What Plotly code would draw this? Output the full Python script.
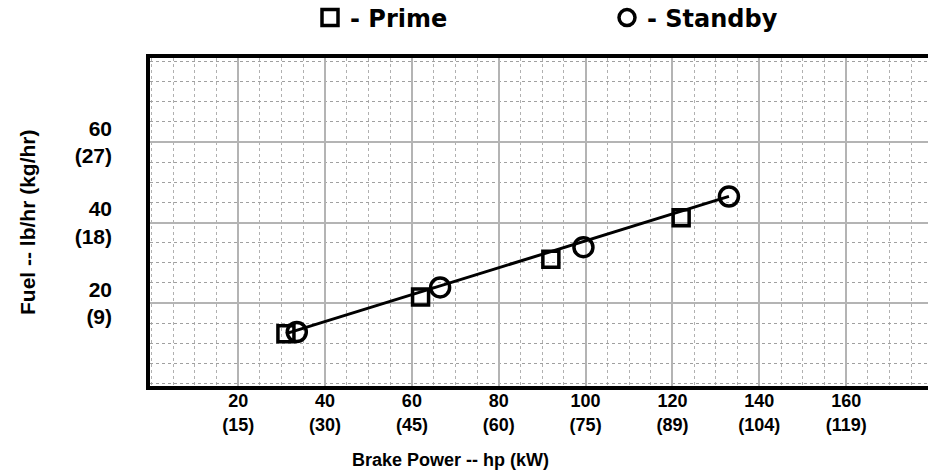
import plotly.graph_objects as go

# ---- data ----
prime_hp = [31, 62, 92, 122]
prime_fuel = [12.4, 21.5, 30.9, 41.2]
standby_hp = [33.5, 66.5, 99.5, 133]
standby_fuel = [12.8, 23.9, 33.9, 46.5]
fit_hp = [31, 133]
fit_fuel = [12.4, 46.5]

x_tick_vals = [20, 40, 60, 80, 100, 120, 140, 160]
x_tick_kw = [15, 30, 45, 60, 75, 89, 104, 119]
y_tick_vals = [20, 40, 60]
y_tick_kg = [9, 18, 27]

SANS = "Liberation Sans, Arial"
WIDE = "DejaVu Sans, Verdana"

FIG_W = 940          # plot runs past the 928 px window edge, like the cropped reference
PLOT_W = FIG_W - 150

fig = go.Figure()
fig.add_trace(go.Scatter(x=fit_hp, y=fit_fuel, mode="lines",
                         line=dict(color="black", width=3), showlegend=False,
                         hoverinfo="skip"))
fig.add_trace(go.Scatter(x=prime_hp, y=prime_fuel, mode="markers", name="- Prime",
                         legend="legend",
                         marker=dict(symbol="square-open", size=16,
                                     color="black", line=dict(width=3.5, color="black"))))
fig.add_trace(go.Scatter(x=standby_hp, y=standby_fuel, mode="markers", name="- Standby",
                         legend="legend2",
                         marker=dict(symbol="circle-open", size=19,
                                     color="black", line=dict(width=3.5, color="black"))))

legend_font = dict(family=WIDE, size=24, color="black", weight="bold")

fig.update_layout(
    width=FIG_W, height=472,
    margin=dict(l=150, r=0, t=58, b=86),
    paper_bgcolor="white", plot_bgcolor="white",
    showlegend=True,
    legend=dict(orientation="h", xref="container", yref="container",
                x=310 / FIG_W, xanchor="left", y=1 - 18 / 472, yanchor="middle",
                font=legend_font, itemsizing="trace", bgcolor="rgba(0,0,0,0)"),
    legend2=dict(orientation="h", xref="container", yref="container",
                 x=607 / FIG_W, xanchor="left", y=1 - 18 / 472, yanchor="middle",
                 font=legend_font, itemsizing="trace", bgcolor="rgba(0,0,0,0)"),
    xaxis=dict(range=[-0.3, 181.6], showline=True, linecolor="black", linewidth=3.5,
               mirror=True, zeroline=False,
               tickmode="array", tickvals=x_tick_vals,
               ticktext=[f"{h}<br>({k})" for h, k in zip(x_tick_vals, x_tick_kw)],
               tickfont=dict(family=SANS, size=18, color="black", weight="bold"),
               ticks="", ticklabelstandoff=-4,
               showgrid=True, gridcolor="#b4b4b4", gridwidth=2,
               minor=dict(tickmode="linear", tick0=0, dtick=5, showgrid=True,
                          gridcolor="#b0b0b0", gridwidth=1, griddash="dot")),
    yaxis=dict(range=[-0.6, 80.9], showline=True, linecolor="black", linewidth=3.5,
               mirror=False, zeroline=False,
               tickmode="array", tickvals=y_tick_vals,
               ticktext=[f"{f}<br>({k})" for f, k in zip(y_tick_vals, y_tick_kg)],
               tickfont=dict(family=SANS, size=21, color="black", weight="bold"),
               ticks="", ticklabelstandoff=30,
               showgrid=True, gridcolor="#b4b4b4", gridwidth=2,
               minor=dict(tickmode="linear", tick0=0, dtick=5, showgrid=True,
                          gridcolor="#a0a0a0", gridwidth=1, griddash="dot")),
    annotations=[
        dict(text="Brake Power -- hp (kW)", xref="paper", yref="paper",
             x=(450 - 150) / PLOT_W, y=-(460 - 386) / 328, xanchor="center", yanchor="middle",
             showarrow=False, font=dict(family=SANS, size=18, color="black", weight="bold")),
        dict(text="Fuel -- lb/hr (kg/hr)", xref="paper", yref="paper",
             x=(27 - 150) / PLOT_W, y=(386 - 223) / 328, xanchor="center", yanchor="middle",
             textangle=-90, showarrow=False,
             font=dict(family=SANS, size=21, color="black", weight="bold")),
    ],
)

fig.write_html("out.html", config={"displayModeBar": False},
               post_script="document.body.style.margin='0';"
                           "document.body.style.overflow='hidden';")
